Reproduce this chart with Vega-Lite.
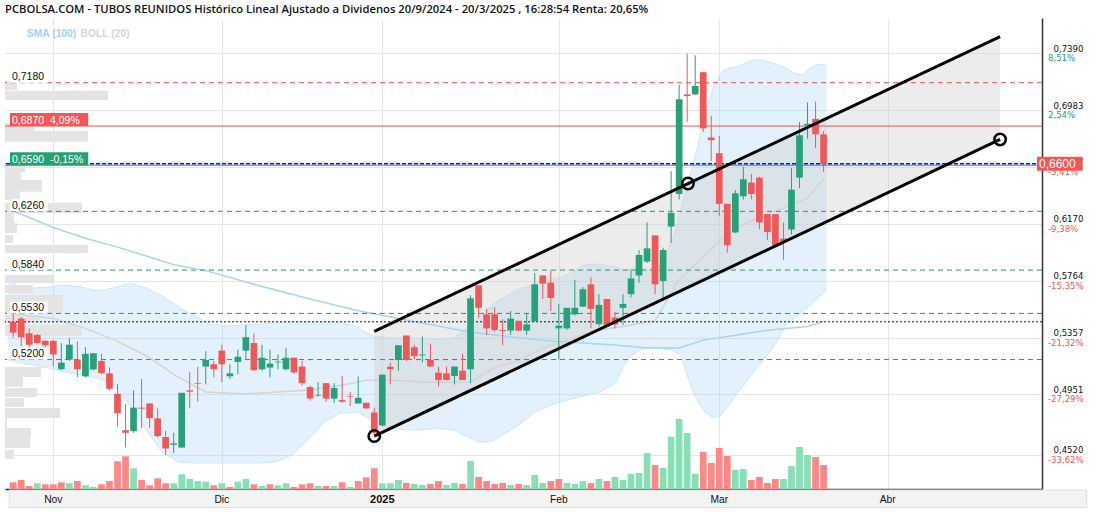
{
"$schema": "https://vega.github.io/schema/vega-lite/v6.json",
"width": 1037, "height": 471,
"autosize": "none",
"padding": {"left": 5, "top": 18, "right": 54, "bottom": 23},
"background": "white",
"title": {"text": "PCBOLSA.COM - TUBOS REUNIDOS Histórico Lineal Ajustado a Dividenos 20/9/2024 - 20/3/2025 , 16:28:54 Renta: 20,65%", "anchor": "start", "frame": "group", "offset": 3, "font": "Open Sans", "fontSize": 11.25, "fontWeight": 600, "color": "#111"},
"config": {"view": {"stroke": null}, "font": "Liberation Sans"},
"datasets": {
"c": [
{"i":-5,"o":0.5470,"h":0.5528,"l":0.5358,"c":0.5393,"v":6.7},
{"i":-4,"o":0.5493,"h":0.5505,"l":0.5295,"c":0.5360,"v":9},
{"i":-3,"o":0.5388,"h":0.5423,"l":0.5283,"c":0.5306,"v":3},
{"i":-2,"o":0.5376,"h":0.5383,"l":0.5311,"c":0.5318,"v":5.7},
{"i":-1,"o":0.5334,"h":0.5340,"l":0.5288,"c":0.5302,"v":4.7},
{"i":0,"o":0.5334,"h":0.5340,"l":0.5148,"c":0.5236,"v":4.7},
{"i":1,"o":0.5131,"h":0.5318,"l":0.5124,"c":0.5178,"v":6.7},
{"i":2,"o":0.5199,"h":0.5353,"l":0.5190,"c":0.5306,"v":5.7},
{"i":3,"o":0.5199,"h":0.5330,"l":0.5073,"c":0.5131,"v":8},
{"i":4,"o":0.5080,"h":0.5288,"l":0.5073,"c":0.5241,"v":3.7},
{"i":5,"o":0.5129,"h":0.5248,"l":0.5124,"c":0.5245,"v":2},
{"i":6,"o":0.5190,"h":0.5241,"l":0.5096,"c":0.5103,"v":4.7},
{"i":7,"o":0.5101,"h":0.5143,"l":0.4980,"c":0.4991,"v":8},
{"i":8,"o":0.4956,"h":0.5026,"l":0.4723,"c":0.4816,"v":27.7},
{"i":9,"o":0.4695,"h":0.4882,"l":0.4571,"c":0.4676,"v":32.7},
{"i":10,"o":0.4688,"h":0.4980,"l":0.4676,"c":0.4856,"v":20.7},
{"i":11,"o":0.4856,"h":0.5061,"l":0.4711,"c":0.4849,"v":9},
{"i":12,"o":0.4886,"h":0.4886,"l":0.4711,"c":0.4781,"v":3.7},
{"i":13,"o":0.4779,"h":0.4851,"l":0.4641,"c":0.4653,"v":10.7},
{"i":14,"o":0.4646,"h":0.4688,"l":0.4518,"c":0.4564,"v":5.7},
{"i":15,"o":0.4590,"h":0.4676,"l":0.4531,"c":0.4600,"v":5.7},
{"i":16,"o":0.4571,"h":0.4962,"l":0.4566,"c":0.4962,"v":14.7},
{"i":17,"o":0.4980,"h":0.5108,"l":0.4851,"c":0.4970,"v":10},
{"i":18,"o":0.5031,"h":0.5148,"l":0.4898,"c":0.5026,"v":8},
{"i":19,"o":0.5150,"h":0.5260,"l":0.5022,"c":0.5197,"v":7.3},
{"i":20,"o":0.5166,"h":0.5190,"l":0.5073,"c":0.5131,"v":3.7},
{"i":21,"o":0.5264,"h":0.5306,"l":0.5038,"c":0.5166,"v":5.7},
{"i":22,"o":0.5080,"h":0.5166,"l":0.5061,"c":0.5101,"v":2},
{"i":23,"o":0.5183,"h":0.5271,"l":0.5096,"c":0.5220,"v":7.3},
{"i":24,"o":0.5264,"h":0.5446,"l":0.5201,"c":0.5360,"v":10},
{"i":25,"o":0.5318,"h":0.5388,"l":0.5120,"c":0.5124,"v":4.7},
{"i":26,"o":0.5131,"h":0.5306,"l":0.5120,"c":0.5213,"v":3},
{"i":27,"o":0.5143,"h":0.5271,"l":0.5073,"c":0.5171,"v":4.7},
{"i":28,"o":0.5180,"h":0.5236,"l":0.5131,"c":0.5185,"v":3.7},
{"i":29,"o":0.5131,"h":0.5283,"l":0.5120,"c":0.5213,"v":5.7},
{"i":30,"o":0.5213,"h":0.5213,"l":0.5096,"c":0.5108,"v":2},
{"i":31,"o":0.5150,"h":0.5190,"l":0.5015,"c":0.5031,"v":4.7},
{"i":32,"o":0.5003,"h":0.5015,"l":0.4905,"c":0.4921,"v":5.7},
{"i":33,"o":0.4942,"h":0.5038,"l":0.4935,"c":0.4947,"v":3},
{"i":34,"o":0.5031,"h":0.5031,"l":0.4898,"c":0.4921,"v":3},
{"i":35,"o":0.4921,"h":0.5031,"l":0.4891,"c":0.4996,"v":3},
{"i":36,"o":0.4910,"h":0.5085,"l":0.4891,"c":0.4898,"v":6.7},
{"i":37,"o":0.4940,"h":0.4968,"l":0.4868,"c":0.4935,"v":2},
{"i":38,"o":0.4886,"h":0.5080,"l":0.4886,"c":0.4926,"v":8},
{"i":39,"o":0.4891,"h":0.4891,"l":0.4847,"c":0.4851,"v":11.7},
{"i":40,"o":0.4821,"h":0.4856,"l":0.4653,"c":0.4676,"v":20.7},
{"i":41,"o":0.4728,"h":0.5092,"l":0.4723,"c":0.5092,"v":5.7},
{"i":42,"o":0.5148,"h":0.5178,"l":0.5022,"c":0.5131,"v":5.7},
{"i":43,"o":0.5197,"h":0.5302,"l":0.5120,"c":0.5302,"v":9},
{"i":44,"o":0.5372,"h":0.5372,"l":0.5190,"c":0.5197,"v":6},
{"i":45,"o":0.5288,"h":0.5306,"l":0.5201,"c":0.5225,"v":5},
{"i":46,"o":0.5230,"h":0.5365,"l":0.5178,"c":0.5236,"v":4},
{"i":47,"o":0.5197,"h":0.5313,"l":0.5150,"c":0.5150,"v":5},
{"i":48,"o":0.5106,"h":0.5150,"l":0.5008,"c":0.5054,"v":8},
{"i":49,"o":0.5101,"h":0.5150,"l":0.5050,"c":0.5054,"v":4},
{"i":50,"o":0.5082,"h":0.5150,"l":0.5022,"c":0.5150,"v":6},
{"i":51,"o":0.5120,"h":0.5241,"l":0.5054,"c":0.5054,"v":5},
{"i":52,"o":0.5131,"h":0.5661,"l":0.5031,"c":0.5638,"v":28},
{"i":53,"o":0.5731,"h":0.5731,"l":0.5498,"c":0.5570,"v":12},
{"i":54,"o":0.5523,"h":0.5563,"l":0.5376,"c":0.5423,"v":8},
{"i":55,"o":0.5523,"h":0.5575,"l":0.5400,"c":0.5411,"v":5},
{"i":56,"o":0.5411,"h":0.5488,"l":0.5302,"c":0.5404,"v":6},
{"i":57,"o":0.5407,"h":0.5547,"l":0.5376,"c":0.5493,"v":4},
{"i":58,"o":0.5477,"h":0.5477,"l":0.5400,"c":0.5407,"v":5},
{"i":59,"o":0.5407,"h":0.5528,"l":0.5376,"c":0.5451,"v":4},
{"i":60,"o":0.5474,"h":0.5820,"l":0.5474,"c":0.5738,"v":14},
{"i":61,"o":0.5801,"h":0.5801,"l":0.5633,"c":0.5743,"v":6},
{"i":62,"o":0.5750,"h":0.5838,"l":0.5547,"c":0.5640,"v":8},
{"i":63,"o":0.5423,"h":0.5598,"l":0.5201,"c":0.5442,"v":10},
{"i":64,"o":0.5423,"h":0.5570,"l":0.5411,"c":0.5570,"v":6},
{"i":65,"o":0.5523,"h":0.5768,"l":0.5516,"c":0.5570,"v":5},
{"i":66,"o":0.5579,"h":0.5719,"l":0.5575,"c":0.5703,"v":8},
{"i":67,"o":0.5738,"h":0.5789,"l":0.5423,"c":0.5563,"v":6},
{"i":68,"o":0.5453,"h":0.5668,"l":0.5435,"c":0.5591,"v":10},
{"i":69,"o":0.5633,"h":0.5633,"l":0.5435,"c":0.5446,"v":8},
{"i":70,"o":0.5500,"h":0.5540,"l":0.5423,"c":0.5451,"v":12},
{"i":71,"o":0.5570,"h":0.5668,"l":0.5446,"c":0.5598,"v":9},
{"i":72,"o":0.5668,"h":0.5843,"l":0.5645,"c":0.5780,"v":15},
{"i":73,"o":0.5801,"h":0.5983,"l":0.5750,"c":0.5948,"v":16},
{"i":74,"o":0.5901,"h":0.6181,"l":0.5890,"c":0.5995,"v":36},
{"i":75,"o":0.6088,"h":0.6088,"l":0.5668,"c":0.5738,"v":24},
{"i":76,"o":0.5761,"h":0.6000,"l":0.5633,"c":0.5983,"v":21},
{"i":77,"o":0.6151,"h":0.6548,"l":0.6034,"c":0.6249,"v":52.3},
{"i":78,"o":0.6384,"h":0.7166,"l":0.6345,"c":0.7061,"v":70},
{"i":79,"o":0.7096,"h":0.7388,"l":0.6898,"c":0.7084,"v":56},
{"i":80,"o":0.7096,"h":0.7376,"l":0.7091,"c":0.7157,"v":15},
{"i":81,"o":0.7255,"h":0.7255,"l":0.6828,"c":0.6853,"v":37},
{"i":82,"o":0.6788,"h":0.6944,"l":0.6618,"c":0.6769,"v":26},
{"i":83,"o":0.6676,"h":0.6800,"l":0.6228,"c":0.6314,"v":41},
{"i":84,"o":0.6314,"h":0.6314,"l":0.5964,"c":0.6018,"v":33},
{"i":85,"o":0.6109,"h":0.6412,"l":0.6104,"c":0.6389,"v":19},
{"i":86,"o":0.6368,"h":0.6578,"l":0.6345,"c":0.6489,"v":20},
{"i":87,"o":0.6466,"h":0.6527,"l":0.6345,"c":0.6384,"v":9},
{"i":88,"o":0.6501,"h":0.6508,"l":0.6132,"c":0.6181,"v":12},
{"i":89,"o":0.6240,"h":0.6240,"l":0.6053,"c":0.6111,"v":6},
{"i":90,"o":0.6240,"h":0.6240,"l":0.6011,"c":0.6011,"v":10},
{"i":91,"o":0.6065,"h":0.6181,"l":0.5913,"c":0.6041,"v":10},
{"i":92,"o":0.6130,"h":0.6571,"l":0.6095,"c":0.6415,"v":23},
{"i":93,"o":0.6501,"h":0.6898,"l":0.6426,"c":0.6804,"v":42},
{"i":94,"o":0.6874,"h":0.7038,"l":0.6781,"c":0.6886,"v":34},
{"i":95,"o":0.6921,"h":0.7045,"l":0.6711,"c":0.6811,"v":32},
{"i":96,"o":0.6811,"h":0.6835,"l":0.6543,"c":0.6600,"v":24}
],
"band": [
{"i":-5,"up":0.5808,"lo":0.5213},{"i":-4,"up":0.5738,"lo":0.5199},{"i":-2,"up":0.5717,"lo":0.5178},{"i":0,"up":0.5724,"lo":0.5157},
{"i":2,"up":0.5738,"lo":0.5129},{"i":4,"up":0.5724,"lo":0.5108},{"i":6,"up":0.5696,"lo":0.5087},{"i":8,"up":0.5717,"lo":0.5038},
{"i":10,"up":0.5752,"lo":0.4898},{"i":12,"up":0.5717,"lo":0.4723},{"i":14,"up":0.5661,"lo":0.4569},{"i":16,"up":0.5584,"lo":0.4499},
{"i":18,"up":0.5521,"lo":0.4492},{"i":20,"up":0.5465,"lo":0.4492},{"i":22,"up":0.5451,"lo":0.4492},{"i":24,"up":0.5458,"lo":0.4492},
{"i":26,"up":0.5465,"lo":0.4492},{"i":28,"up":0.5472,"lo":0.4499},{"i":30,"up":0.5479,"lo":0.4548},{"i":32,"up":0.5479,"lo":0.4653},
{"i":34,"up":0.5479,"lo":0.4779},{"i":36,"up":0.5479,"lo":0.4842},{"i":38,"up":0.5444,"lo":0.4849},{"i":40,"up":0.5381,"lo":0.4793},
{"i":42,"up":0.5367,"lo":0.4737},{"i":44,"up":0.5367,"lo":0.4723},{"i":46,"up":0.5367,"lo":0.4723},{"i":48,"up":0.5360,"lo":0.4737},
{"i":50,"up":0.5367,"lo":0.4723},{"i":52,"up":0.5458,"lo":0.4667},{"i":53,"up":0.5507,"lo":0.4639},{"i":54,"up":0.5563,"lo":0.4639},
{"i":55,"up":0.5612,"lo":0.4653},{"i":56,"up":0.5647,"lo":0.4688},{"i":58,"up":0.5710,"lo":0.4758},{"i":60,"up":0.5745,"lo":0.4849},
{"i":62,"up":0.5773,"lo":0.4898},{"i":64,"up":0.5808,"lo":0.4933},{"i":66,"up":0.5878,"lo":0.4961},{"i":68,"up":0.5885,"lo":0.4989},
{"i":70,"up":0.5864,"lo":0.5052},{"i":71,"up":0.5843,"lo":0.5178},{"i":72,"up":0.5857,"lo":0.5248},{"i":73,"up":0.5857,"lo":0.5283},
{"i":74,"up":0.5843,"lo":0.5297},{"i":75,"up":0.5885,"lo":0.5297},{"i":76,"up":0.5948,"lo":0.5290},{"i":77,"up":0.6053,"lo":0.5283},
{"i":78,"up":0.6263,"lo":0.5248},{"i":79,"up":0.6473,"lo":0.5073},{"i":80,"up":0.6683,"lo":0.4933},{"i":81,"up":0.6928,"lo":0.4849},
{"i":82,"up":0.7117,"lo":0.4807},{"i":83,"up":0.7229,"lo":0.4828},{"i":84,"up":0.7257,"lo":0.4898},{"i":85,"up":0.7264,"lo":0.4982},
{"i":86,"up":0.7292,"lo":0.5052},{"i":87,"up":0.7313,"lo":0.5129},{"i":88,"up":0.7313,"lo":0.5199},{"i":89,"up":0.7299,"lo":0.5269},
{"i":90,"up":0.7278,"lo":0.5353},{"i":91,"up":0.7257,"lo":0.5458},{"i":92,"up":0.7222,"lo":0.5507},{"i":93,"up":0.7208,"lo":0.5549},
{"i":94,"up":0.7257,"lo":0.5598},{"i":95,"up":0.7285,"lo":0.5647},{"i":96,"up":0.7278,"lo":0.5703}
],
"mid": [
{"i":-5,"m":0.5528},{"i":0,"m":0.5493},{"i":4,"m":0.5423},{"i":8,"m":0.5332},{"i":12,"m":0.5213},{"i":15,"m":0.5094},{"i":19,"m":0.4968},
{"i":24,"m":0.4954},{"i":28,"m":0.4968},{"i":32,"m":0.4982},{"i":36,"m":0.5017},{"i":39,"m":0.5052},{"i":42,"m":0.5052},{"i":47,"m":0.5038},
{"i":52,"m":0.5038},{"i":55,"m":0.5143},{"i":58,"m":0.5192},{"i":61,"m":0.5283},{"i":63,"m":0.5318},{"i":67,"m":0.5402},{"i":71,"m":0.5437},
{"i":75,"m":0.5479},{"i":78,"m":0.5773},{"i":81,"m":0.5934},{"i":84,"m":0.6102},{"i":87,"m":0.6193},{"i":90,"m":0.6263},{"i":94,"m":0.6354},{"i":96,"m":0.6494}
],
"sma": [
{"i":-5,"s":0.6263},{"i":0,"s":0.6144},{"i":4,"s":0.6067},{"i":8,"s":0.6004},{"i":12,"s":0.5934},{"i":15,"s":0.5878},{"i":19,"s":0.5836},
{"i":25,"s":0.5738},{"i":32,"s":0.5633},{"i":38,"s":0.5549},{"i":43,"s":0.5493},{"i":52,"s":0.5395},{"i":62,"s":0.5332},{"i":70,"s":0.5304},
{"i":74,"s":0.5283},{"i":78,"s":0.5283},{"i":81,"s":0.5339},{"i":85,"s":0.5374},{"i":89,"s":0.5409},{"i":94,"s":0.5437},{"i":96,"s":0.5472}
],
"vp": [
{"lo":0.7103,"hi":0.7168,"w":12},{"lo":0.7033,"hi":0.7098,"w":103},{"lo":0.6818,"hi":0.6872,"w":30},{"lo":0.6741,"hi":0.6818,"w":83},
{"lo":0.6529,"hi":0.6599,"w":20},{"lo":0.6473,"hi":0.6529,"w":16},{"lo":0.6391,"hi":0.6473,"w":37},{"lo":0.6333,"hi":0.6391,"w":15},
{"lo":0.6242,"hi":0.6312,"w":77},{"lo":0.6172,"hi":0.6242,"w":9},{"lo":0.6102,"hi":0.6172,"w":12},{"lo":0.6032,"hi":0.6088,"w":8},
{"lo":0.5962,"hi":0.6018,"w":83},{"lo":0.5752,"hi":0.5808,"w":49},{"lo":0.5682,"hi":0.5738,"w":28},{"lo":0.5598,"hi":0.5668,"w":58},
{"lo":0.5542,"hi":0.5598,"w":58},{"lo":0.5472,"hi":0.5528,"w":35},{"lo":0.5381,"hi":0.5458,"w":77},{"lo":0.5094,"hi":0.5164,"w":36},
{"lo":0.5024,"hi":0.5094,"w":18},{"lo":0.4954,"hi":0.5017,"w":32},{"lo":0.4884,"hi":0.4947,"w":19},{"lo":0.4807,"hi":0.4877,"w":55},
{"lo":0.4737,"hi":0.4807,"w":2},{"lo":0.4667,"hi":0.4737,"w":26},{"lo":0.4597,"hi":0.4667,"w":25},{"lo":0.4520,"hi":0.4583,"w":9}
],
"chan": [{"i":40,"up":0.5402,"lo":0.4653},{"i":118,"up":0.7509,"lo":0.6774}],
"pts": [{"i":40,"p":0.4653},{"i":79.1,"p":0.6459},{"i":118,"p":0.6774}],
"hl": [{"p":0.718},{"p":0.687},{"p":0.659},{"p":0.66},{"p":0.626},{"p":0.584},{"p":0.553},{"p":0.547},{"p":0.52}],
"llab": [{"p":0.718,"t":"0,7180"},{"p":0.687,"t":"0,6870\u00a0\u00a04,09%"},{"p":0.659,"t":"0,6590\u00a0\u00a0-0,15%"},{"p":0.626,"t":"0,6260"},{"p":0.584,"t":"0,5840"},{"p":0.553,"t":"0,5530"},{"p":0.52,"t":"0,5200"}],
"rpct": [{"p":0.739,"t":"8,51%"},{"p":0.6983,"t":"2,54%"},{"p":0.6577,"t":"-3,41%"},{"p":0.617,"t":"-9,38%"},{"p":0.5764,"t":"-15,35%"},{"p":0.5357,"t":"-21,32%"},{"p":0.4951,"t":"-27,29%"},{"p":0.452,"t":"-33,62%"}],
"last": [{"p":0.66,"t":"0,6600"}],
"months": [{"i":0,"t":"Nov"},{"i":21,"t":"Dic"},{"i":41,"t":"2025"},{"i":63,"t":"Feb"},{"i":83,"t":"Mar"},{"i":104,"t":"Abr"}]
},
"resolve": {"scale": {"x": "independent", "y": "independent"}},
"layer": [
{"data": {"name": "band"},
 "layer": [
  {"mark": {"type": "area", "color": "#9fd0f5", "opacity": 0.3},
   "encoding": {"x": {"field": "i", "type": "quantitative", "scale": {"domain": [-5.4, 122.6], "nice": false, "zero": false}, "axis": null},
     "y": {"field": "up", "type": "quantitative", "scale": {"domain": [0.431, 0.7607], "nice": false, "zero": false}, "axis": null},
     "y2": {"field": "lo"}}},
  {"mark": {"type": "line", "color": "#cbe6fa", "strokeWidth": 1},
   "encoding": {"x": {"field": "i", "type": "quantitative", "axis": null}, "y": {"field": "up", "type": "quantitative", "axis": null}}},
  {"mark": {"type": "line", "color": "#cbe6fa", "strokeWidth": 1},
   "encoding": {"x": {"field": "i", "type": "quantitative", "axis": null}, "y": {"field": "lo", "type": "quantitative", "axis": null}}}
 ]},
{"data": {"name": "vp"},
 "mark": {"type": "rect", "color": "#e4e4e4"},
 "encoding": {"x": {"field": "w", "type": "quantitative", "scale": {"domain": [0, 1037], "nice": false}, "axis": null},
   "x2": {"datum": 0},
   "y": {"field": "lo", "type": "quantitative", "scale": {"domain": [0.431, 0.7607], "nice": false, "zero": false}, "axis": null},
   "y2": {"field": "hi"}}},
{"layer": [
  {"data": {"name": "chan"},
   "mark": {"type": "area", "color": "#cfcfcf", "opacity": 0.4},
   "encoding": {"x": {"field": "i", "type": "quantitative", "scale": {"domain": [-5.4, 122.6], "nice": false, "zero": false},
       "axis": {"values": [0, 21, 41, 63, 83, 104], "title": null, "grid": true, "gridColor": "#e6e6e6", "ticks": false, "domain": true, "domainColor": "#333", "domainWidth": 1.5, "labels": false}},
     "y": {"field": "up", "type": "quantitative", "scale": {"domain": [0.431, 0.7607], "nice": false, "zero": false},
       "axis": {"orient": "right", "values": [0.739, 0.6983, 0.6577, 0.617, 0.5764, 0.5357, 0.4951, 0.452], "title": null, "grid": true, "gridColor": "#e6e6e6", "ticks": false, "tickSize": 0,
         "domain": true, "domainColor": "#333", "domainWidth": 1.5, "labelExpr": "replace(format(datum.value, '.4f'), '.', ',')",
         "labelAlign": "left", "labelBaseline": "alphabetic", "labelOffset": -2, "labelPadding": 11, "labelFont": "'Liberation Sans Narrow', 'DejaVu Sans Condensed', sans-serif", "labelFontSize": 9.5, "labelColor": "#111"}},
     "y2": {"field": "lo"}}},
  {"data": {"name": "mid"}, "mark": {"type": "line", "color": "#d4d4d4", "strokeWidth": 1.5},
   "encoding": {"x": {"field": "i", "type": "quantitative"}, "y": {"field": "m", "type": "quantitative"}}},
  {"data": {"name": "sma"}, "mark": {"type": "line", "color": "#a6d4f7", "strokeWidth": 1.5},
   "encoding": {"x": {"field": "i", "type": "quantitative"}, "y": {"field": "s", "type": "quantitative"}}},
  {"data": {"name": "hl"}, "transform": [{"filter": "datum.p == 0.718"}],
   "mark": {"type": "rule", "color": "#f05050", "strokeDash": [5, 4], "strokeWidth": 1},
   "encoding": {"y": {"field": "p", "type": "quantitative"}}},
  {"data": {"name": "hl"}, "transform": [{"filter": "datum.p == 0.687"}],
   "mark": {"type": "rule", "color": "#f05050", "strokeWidth": 1},
   "encoding": {"y": {"field": "p", "type": "quantitative"}}},
  {"data": {"name": "hl"}, "transform": [{"filter": "datum.p == 0.659"}],
   "mark": {"type": "rule", "color": "#26a070", "strokeWidth": 1},
   "encoding": {"y": {"field": "p", "type": "quantitative"}}},
  {"data": {"name": "hl"}, "transform": [{"filter": "datum.p == 0.66"}],
   "mark": {"type": "rule", "color": "#1010ee", "strokeDash": [4, 2], "strokeWidth": 1.5},
   "encoding": {"y": {"field": "p", "type": "quantitative"}}},
  {"data": {"name": "hl"}, "transform": [{"filter": "datum.p == 0.626 || datum.p == 0.584 || datum.p == 0.553 || datum.p == 0.52"}],
   "mark": {"type": "rule", "color": "#1f9a70", "strokeDash": [5, 4], "strokeWidth": 1},
   "encoding": {"y": {"field": "p", "type": "quantitative"}}},
  {"data": {"name": "hl"}, "transform": [{"filter": "datum.p == 0.547"}],
   "mark": {"type": "rule", "color": "#111", "strokeDash": [2, 2], "strokeWidth": 1},
   "encoding": {"y": {"field": "p", "type": "quantitative"}}},
  {"data": {"name": "c"}, "mark": {"type": "rule", "strokeWidth": 1},
   "encoding": {"x": {"field": "i", "type": "quantitative"}, "y": {"field": "l", "type": "quantitative"}, "y2": {"field": "h"},
     "color": {"condition": {"test": "datum.c >= datum.o", "value": "#26a17a"}, "value": "#f25757"}}},
  {"data": {"name": "c"}, "mark": {"type": "bar", "size": 6.7},
   "encoding": {"x": {"field": "i", "type": "quantitative"}, "y": {"field": "o", "type": "quantitative"}, "y2": {"field": "c"},
     "color": {"condition": {"test": "datum.c >= datum.o", "value": "#26a17a"}, "value": "#f25757"}}},
  {"data": {"name": "chan"}, "mark": {"type": "line", "color": "#000", "strokeWidth": 3},
   "encoding": {"x": {"field": "i", "type": "quantitative"}, "y": {"field": "up", "type": "quantitative"}}},
  {"data": {"name": "chan"}, "mark": {"type": "line", "color": "#000", "strokeWidth": 3},
   "encoding": {"x": {"field": "i", "type": "quantitative"}, "y": {"field": "lo", "type": "quantitative"}}},
  {"data": {"name": "pts"}, "mark": {"type": "point", "filled": false, "color": "#000", "strokeWidth": 2.5, "size": 130, "opacity": 1},
   "encoding": {"x": {"field": "i", "type": "quantitative"}, "y": {"field": "p", "type": "quantitative"}}},
  {"data": {"name": "llab"}, "transform": [{"filter": "datum.p != 0.687 && datum.p != 0.659"}],
   "mark": {"type": "bar", "orient": "horizontal", "size": 12, "yOffset": -6, "color": "white"},
   "encoding": {"y": {"field": "p", "type": "quantitative"}, "x": {"datum": -5.4}, "x2": {"datum": -0.7}}},
  {"data": {"name": "llab"}, "transform": [{"filter": "datum.p == 0.687"}],
   "mark": {"type": "bar", "orient": "horizontal", "size": 13, "yOffset": -6.5, "color": "#f25757"},
   "encoding": {"y": {"field": "p", "type": "quantitative"}, "x": {"datum": -5.4}, "x2": {"datum": 4.35}}},
  {"data": {"name": "llab"}, "transform": [{"filter": "datum.p == 0.659"}],
   "mark": {"type": "bar", "orient": "horizontal", "size": 13, "yOffset": -6.5, "color": "#26a070"},
   "encoding": {"y": {"field": "p", "type": "quantitative"}, "x": {"datum": -5.4}, "x2": {"datum": 4.35}}},
  {"data": {"name": "llab"},
   "mark": {"type": "text", "align": "left", "baseline": "alphabetic", "dx": 2, "dy": -2.5, "fontSize": 10.5, "font": "Liberation Sans"},
   "encoding": {"y": {"field": "p", "type": "quantitative"}, "x": {"datum": -5.4}, "text": {"field": "t"},
     "color": {"condition": {"test": "datum.p == 0.687 || datum.p == 0.659", "value": "white"}, "value": "#111"}}},
  {"data": {"name": "rpct"},
   "mark": {"type": "text", "align": "left", "baseline": "top", "dx": 11, "dy": 0, "fontSize": 9.5, "font": "'Liberation Sans Narrow', 'DejaVu Sans Condensed', sans-serif"},
   "encoding": {"y": {"field": "p", "type": "quantitative"}, "x": {"datum": 122.6}, "text": {"field": "t"},
     "color": {"condition": {"test": "indexof(datum.t, '-') < 0", "value": "#26a070"}, "value": "#f25757"}}},
  {"data": {"name": "last"},
   "mark": {"type": "bar", "orient": "horizontal", "size": 14, "color": "#f25757"},
   "encoding": {"y": {"field": "p", "type": "quantitative"}, "x": {"datum": 122.6}, "x2": {"datum": 128.3}}},
  {"data": {"name": "last"},
   "mark": {"type": "text", "align": "left", "baseline": "middle", "dx": 2, "dy": 0.5, "fontSize": 12, "color": "white", "font": "Liberation Sans"},
   "encoding": {"y": {"field": "p", "type": "quantitative"}, "x": {"datum": 122.6}, "text": {"field": "t"}}},
  {"data": {"values": [{}]},
   "mark": {"type": "text", "align": "left", "baseline": "alphabetic", "fontSize": 10.3, "fontWeight": "bold", "color": "#9fd2f6", "font": "Liberation Sans"},
   "encoding": {"x": {"datum": -3.3}, "y": {"datum": 0.7507}, "text": {"value": "SMA (100)"}}},
  {"data": {"values": [{}]},
   "mark": {"type": "text", "align": "left", "baseline": "alphabetic", "fontSize": 10.3, "fontWeight": "bold", "color": "#d6d6d6", "font": "Liberation Sans"},
   "encoding": {"x": {"datum": 3.4}, "y": {"datum": 0.7507}, "text": {"value": "BOLL (20)"}}}
 ]},
{"layer": [
  {"data": {"values": [{}]},
   "mark": {"type": "rect", "color": "#f3f3f3", "stroke": "#dddddd", "strokeWidth": 1},
   "encoding": {"x": {"datum": -5.5, "type": "quantitative", "scale": {"domain": [-5.4, 122.6], "nice": false, "zero": false}, "axis": null},
     "x2": {"datum": 128.8},
     "y": {"datum": -1, "type": "quantitative", "scale": {"domain": [0, 471], "nice": false}, "axis": null},
     "y2": {"datum": -18.5}}},
  {"data": {"name": "c"},
   "transform": [{"window": [{"op": "lag", "field": "c", "as": "pc"}], "sort": [{"field": "i", "order": "ascending"}]}],
   "mark": {"type": "bar", "size": 6.7},
   "encoding": {"x": {"field": "i", "type": "quantitative", "axis": null},
     "y": {"field": "v", "type": "quantitative", "axis": null},
     "color": {"condition": {"test": "datum.pc != null && datum.c >= datum.pc", "value": "#86e0b3"}, "value": "#ff8787"}}},
  {"data": {"name": "months"}, "transform": [{"filter": "datum.t != '2025'"}],
   "mark": {"type": "text", "baseline": "middle", "align": "center", "fontSize": 10.3, "color": "#111", "font": "Liberation Sans"},
   "encoding": {"x": {"field": "i", "type": "quantitative", "axis": null}, "y": {"datum": -11}, "text": {"field": "t"}}},
  {"data": {"name": "months"}, "transform": [{"filter": "datum.t == '2025'"}],
   "mark": {"type": "text", "baseline": "middle", "align": "center", "fontSize": 11, "fontWeight": "bold", "color": "#111", "font": "Liberation Sans"},
   "encoding": {"x": {"field": "i", "type": "quantitative", "axis": null}, "y": {"datum": -11}, "text": {"field": "t"}}}
 ]}
]
}
